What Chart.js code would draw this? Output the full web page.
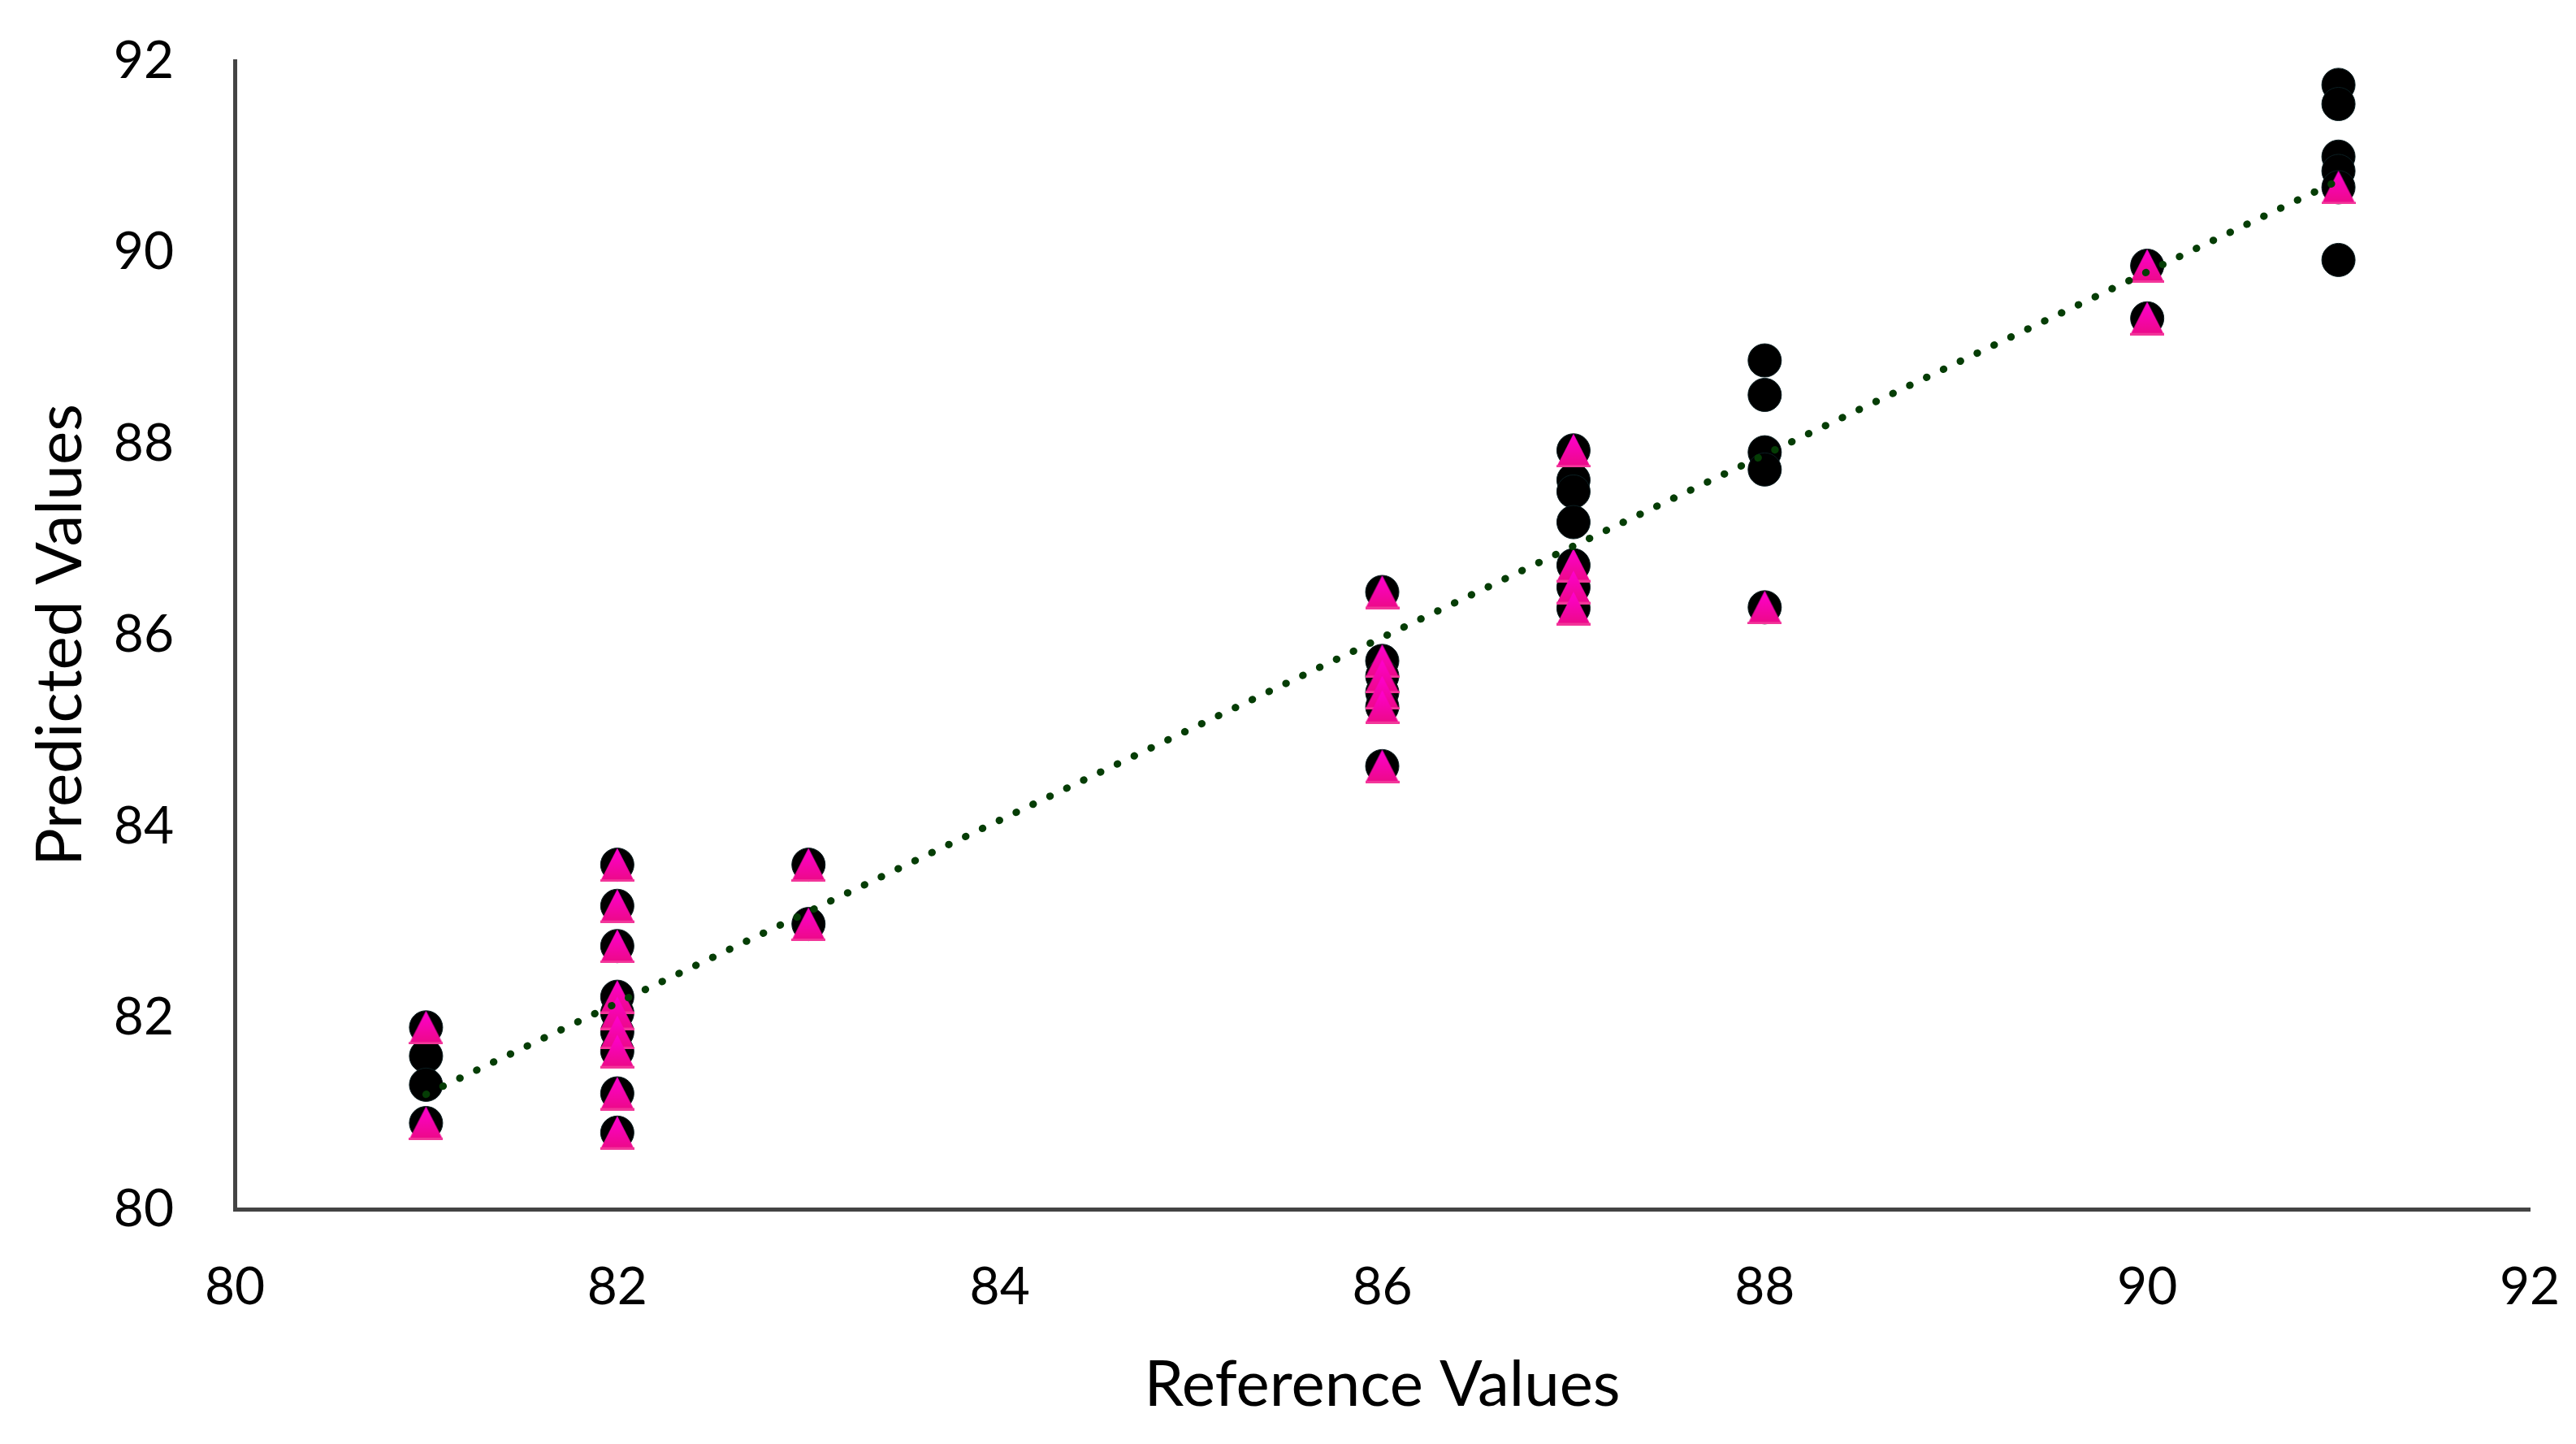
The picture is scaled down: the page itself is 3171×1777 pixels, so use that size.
<!DOCTYPE html>
<html>
<head>
<meta charset="utf-8">
<script src="https://cdn.jsdelivr.net/npm/chart.js@4.4.1/dist/chart.umd.min.js"></script>
<style>
html,body{margin:0;padding:0;background:#fff;}
#wrap{width:3171px;height:1777px;}
</style>
</head>
<body>
<div id="wrap"><canvas id="c" width="3171" height="1777" style="width:3171px;height:1777px"></canvas></div>
<script>
// Black circles (all predicted values)
const circleX = [81,81,81,81, 82,82,82,82,82,82,82,82,82, 83,83, 86,86,86,86,86,86, 87,87,87,87,87,87,87, 88,88,88,88,88, 90,90, 91,91,91,91,91,91];
const circleY = [81.9,81.6,81.3,80.9, 83.6,83.17,82.75,82.22,82.05,81.85,81.65,81.21,80.8, 83.6,82.98, 86.45,85.73,85.57,85.4,85.25,84.63, 87.93,87.62,87.5,87.18,86.73,86.5,86.28, 88.87,88.51,87.91,87.73,86.29, 89.86,89.31, 91.75,91.55,91.0,90.85,90.68,89.92];
// Magenta triangles
const triX = [81,81, 82,82,82,82,82,82,82,82,82, 83,83, 86,86,86,86,86,86, 87,87,87,87, 88, 90,90, 91];
const triY = [81.9,80.9, 83.6,83.17,82.75,82.22,82.05,81.85,81.65,81.21,80.8, 83.6,82.98, 86.45,85.73,85.57,85.4,85.25,84.63, 87.93,86.73,86.5,86.28, 86.29, 89.86,89.31, 90.68];
// Trend line end points
const trendX = [81, 91];
const trendY = [81.2, 90.75];
// Axis ticks
const axisMin = 80, axisMax = 92, axisStep = 2;

function pts(xs, ys){ return xs.map((x,i)=>({x:x, y:ys[i]})); }

// triangle marker
const tri = document.createElement('canvas');
tri.width = 42; tri.height = 42;
(function(){
  const g = tri.getContext('2d');
  const grad = g.createLinearGradient(0,0,0,42);
  grad.addColorStop(0,'#ff00d2');
  grad.addColorStop(1,'#ec0a86');
  g.fillStyle = grad;
  g.beginPath();
  g.moveTo(21,0.5); g.lineTo(41.5,40.5); g.lineTo(0.5,40.5); g.closePath();
  g.fill();
  g.fillStyle = '#f2369a';
  g.fillRect(0,39,42,3);
})();

const FONT = 'Lato, "Open Sans", sans-serif';

new Chart(document.getElementById('c'), {
  type: 'scatter',
  data: {
    datasets: [
      {
        label: 'Trend',
        data: pts(trendX, trendY),
        showLine: true,
        borderColor: '#053d05',
        borderWidth: 9,
        borderDash: [0.5, 22.5],
        borderCapStyle: 'round',
        pointRadius: 0,
        fill: false,
        order: 0
      },
      {
        label: 'Triangles',
        data: pts(triX, triY),
        pointStyle: tri,
        pointRadius: 21,
        order: 1
      },
      {
        label: 'Circles',
        data: pts(circleX, circleY),
        pointStyle: 'circle',
        pointRadius: 20.5,
        backgroundColor: '#000000',
        borderColor: '#0b1f22',
        borderWidth: 1,
        order: 2
      }
    ]
  },
  options: {
    responsive: false,
    devicePixelRatio: 1,
    animation: false,
    layout: { padding: { left: 28, right: 57, top: 75, bottom: 25 } },
    plugins: { legend: { display: false }, tooltip: { enabled: false } },
    scales: {
      x: {
        type: 'linear', min: axisMin, max: axisMax,
        afterFit: s => { s.height = 264; s.paddingLeft = 0; s.paddingRight = 0; },
        ticks: { stepSize: axisStep, padding: 58, color: '#000', font: { family: FONT, size: 64 } },
        grid: { display: false, drawTicks: false },
        border: { display: true, color: '#444444', width: 5 },
        title: { display: true, text: 'Reference Values', color: '#000', font: { family: FONT, size: 78 }, padding: { top: 0, bottom: 0 } }
      },
      y: {
        type: 'linear', min: axisMin, max: axisMax,
        afterFit: s => { s.width = 261; s.paddingTop = 0; s.paddingBottom = 0; },
        ticks: { stepSize: axisStep, padding: 75, color: '#000', font: { family: FONT, size: 64 } },
        grid: { display: false, drawTicks: false },
        border: { display: true, color: '#444444', width: 5 },
        title: { display: true, text: 'Predicted Values', color: '#000', font: { family: FONT, size: 78 }, padding: { top: 0, bottom: 0 } }
      }
    }
  }
});
</script>
</body>
</html>
